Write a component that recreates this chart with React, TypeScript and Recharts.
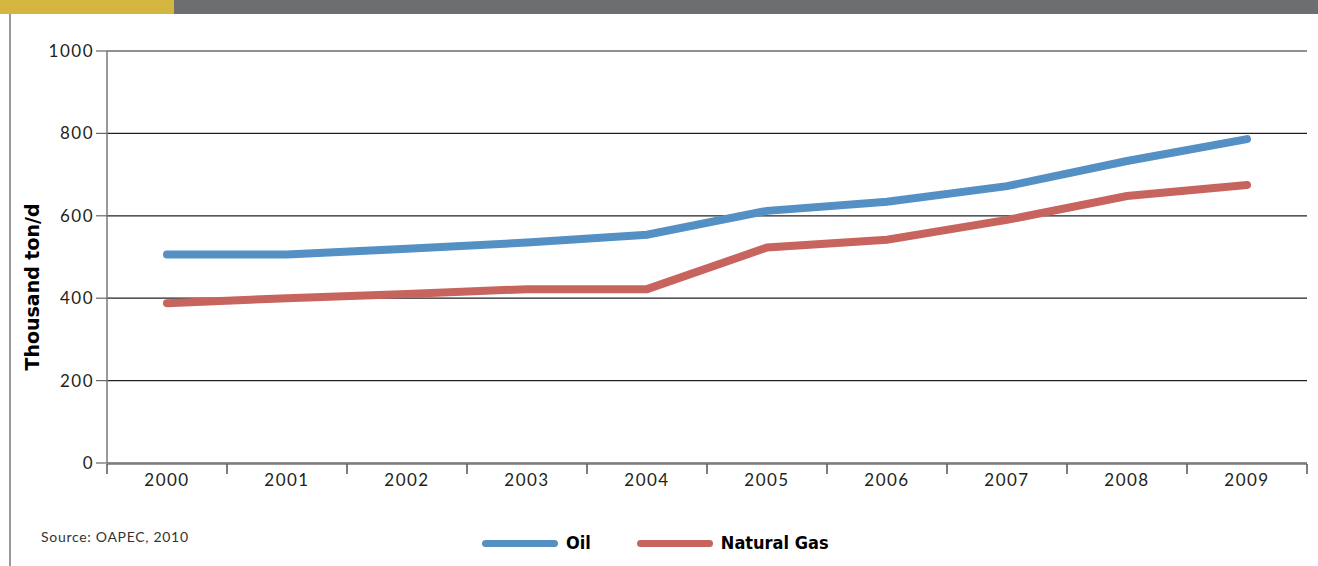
import { LineChart, Line, XAxis, YAxis, CartesianGrid } from 'recharts'

const years = ['2000', '2001', '2002', '2003', '2004', '2005', '2006', '2007', '2008', '2009']
const oil = [506, 506, 520, 535, 554, 612, 634, 672, 733, 786]
const naturalGas = [388, 400, 410, 422, 422, 523, 542, 590, 648, 675]
const yTicks = [0, 200, 400, 600, 800, 1000]
// boundaries between year columns
const edgeTicks = [-0.5, 0.5, 1.5, 2.5, 3.5, 4.5, 5.5, 6.5, 7.5, 8.5, 9.5]

const data = years.map((year, i) => ({ year, idx: i, oil: oil[i], gas: naturalGas[i] }))

const tickFont = { fontFamily: 'Lato, sans-serif', fontSize: 17, fill: '#231f20', letterSpacing: 1.5 }

const ChartLegend = () => (
  <div
    style={{
      position: 'absolute',
      left: 482,
      top: 531,
      display: 'flex',
      alignItems: 'center',
      fontFamily: '"Liberation Sans Narrow", "DejaVu Sans Condensed", sans-serif',
      fontWeight: 'bold',
      fontSize: 18,
      color: '#000',
      lineHeight: '24px',
    }}
  >
    <span style={{ display: 'inline-block', width: 76, height: 7, borderRadius: 4, background: '#5590c4' }} />
    <span style={{ marginLeft: 8, marginRight: 46 }}>Oil</span>
    <span style={{ display: 'inline-block', width: 76, height: 7, borderRadius: 4, background: '#c8645e' }} />
    <span style={{ marginLeft: 8 }}>Natural Gas</span>
  </div>
)

export default function App() {
  return (
    <div style={{ position: 'absolute', left: 0, top: 0, width: 1318, height: 566, background: '#fff', overflow: 'hidden' }}>
      <div style={{ position: 'absolute', left: 0, top: 0, width: 174, height: 14, background: '#d4b53f' }} />
      <div style={{ position: 'absolute', left: 174, top: 0, width: 1144, height: 14, background: '#6d6e71' }} />
      <div style={{ position: 'absolute', left: 9, top: 14, width: 2, height: 552, background: '#9a9a9a' }} />
      <div
        style={{
          position: 'absolute',
          left: 41,
          top: 528,
          fontFamily: 'Lato, sans-serif',
          fontSize: 14,
          letterSpacing: 0.7,
          color: '#333',
        }}
      >
        Source: OAPEC, 2010
      </div>
      <div
        style={{
          position: 'absolute',
          left: 32,
          top: 287,
          transform: 'translate(-50%, -50%) rotate(-90deg)',
          whiteSpace: 'nowrap',
          fontFamily: '"DejaVu Sans", sans-serif',
          fontWeight: 'bold',
          fontSize: 19,
          color: '#000',
        }}
      >
        Thousand ton/d
      </div>
      <div style={{ position: 'absolute', left: 0, top: 0 }}>
        <LineChart width={1318} height={566} data={data} margin={{ top: 51, right: 11, left: 0, bottom: 92 }}>
          <CartesianGrid horizontal vertical={false} stroke="#222" strokeWidth={1.2} />
          <XAxis
            dataKey="year"
            scale="band"
            tickLine={false}
            axisLine={false}
            tick={tickFont}
            tickMargin={5}
            height={1}
            interval={0}
          />
          <XAxis
            xAxisId="edges"
            dataKey="idx"
            type="number"
            domain={[-0.5, 9.5]}
            allowDataOverflow
            ticks={edgeTicks}
            interval={0}
            tickFormatter={() => ''}
            tickSize={10}
            tickLine={{ stroke: '#555', strokeWidth: 1.5 }}
            axisLine={{ stroke: '#777', strokeWidth: 1.5 }}
            height={10}
          />
          <YAxis
            width={107}
            domain={[0, 1000]}
            ticks={yTicks}
            tick={tickFont}
            tickSize={11}
            tickMargin={2}
            tickLine={{ stroke: '#666', strokeWidth: 1.2 }}
            axisLine={{ stroke: '#777', strokeWidth: 1.5 }}
          />
          <Line
            dataKey="oil"
            name="Oil"
            stroke="#5590c4"
            strokeWidth={8}
            strokeLinecap="round"
            dot={false}
            activeDot={false}
            isAnimationActive={false}
          />
          <Line
            dataKey="gas"
            name="Natural Gas"
            stroke="#c8645e"
            strokeWidth={8}
            strokeLinecap="round"
            dot={false}
            activeDot={false}
            isAnimationActive={false}
          />
        </LineChart>
      </div>
      <ChartLegend />
    </div>
  )
}
